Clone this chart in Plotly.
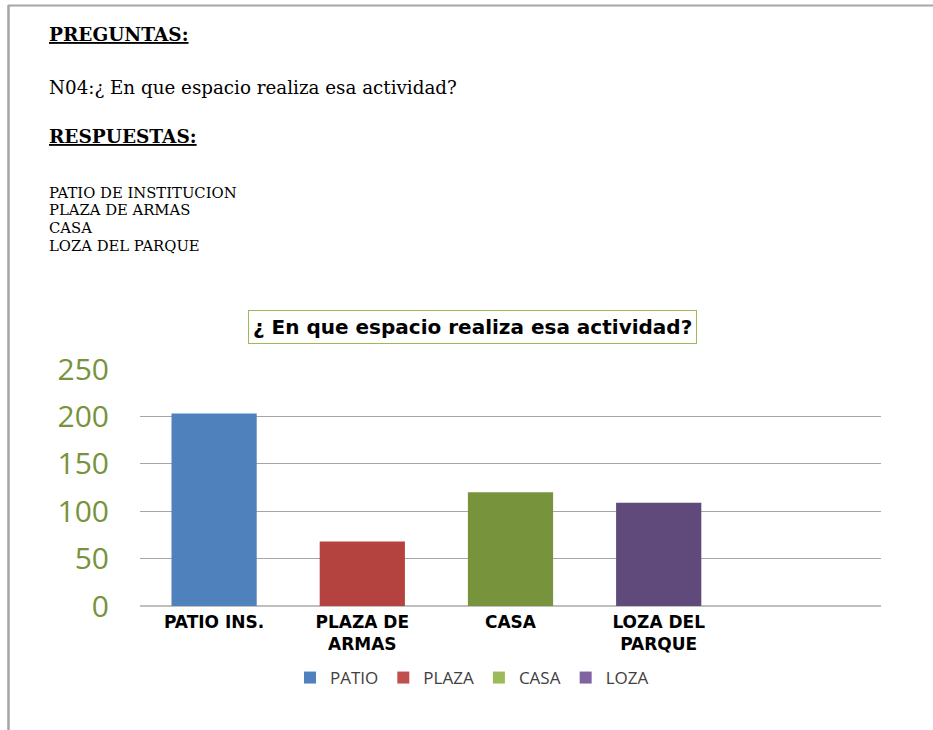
import plotly.graph_objects as go

# chart data
categories = ["PATIO INS.", "PLAZA DE<br>ARMAS", "CASA", "LOZA DEL<br>PARQUE", " "]
series_names = ["PATIO", "PLAZA", "CASA", "LOZA"]
values = [203, 68, 120, 109]
bar_colors = ["#4F81BD", "#B4423F", "#77933C", "#604A7B"]
legend_colors = ["#4F81BD", "#C0504D", "#9BBB59", "#8064A2"]
y_ticks = [0, 50, 100, 150, 200, 250]

# page text
pregunta = "N04:¿ En que espacio realiza esa actividad?"
respuestas = ["PATIO DE INSTITUCION", "PLAZA DE ARMAS", "CASA", "LOZA DEL PARQUE"]
chart_title = "¿ En que espacio realiza esa actividad?"

W, H = 933, 730


def px(x):
    return x / W


def py(y):
    return 1 - y / H


fig = go.Figure()

for name, cat, val, color in zip(series_names, categories, values, bar_colors):
    fig.add_trace(
        go.Bar(
            x=[cat],
            y=[val],
            name=name,
            marker_color=color,
            marker_line_width=0,
            width=0.575,
            showlegend=False,
        )
    )

# legend swatches use the lighter office palette
for name, color in zip(series_names, legend_colors):
    fig.add_trace(
        go.Bar(x=[None], y=[None], name=name, marker_color=color, marker_line_width=0)
    )

serif = "DejaVu Serif, serif"
annotations = [
    dict(text="<b><u>PREGUNTAS:</u></b>", x=px(47), y=py(35), font=dict(family=serif, size=18.5)),
    dict(text=pregunta, x=px(47), y=py(87), font=dict(family=serif, size=18.3)),
    dict(text="<b><u>RESPUESTAS:</u></b>", x=px(47), y=py(136), font=dict(family=serif, size=18.5)),
]
for i, r in enumerate(respuestas):
    annotations.append(
        dict(text=r, x=px(47), y=py(192 + i * 17.7), font=dict(family=serif, size=14.8))
    )
for a in annotations:
    a.update(xref="paper", yref="paper", xanchor="left", yanchor="middle",
             showarrow=False, align="left")
    a["font"]["color"] = "#000000"

annotations.append(
    dict(
        text="<b>" + chart_title + "</b>",
        x=px(472), y=py(327), xref="paper", yref="paper",
        xanchor="center", yanchor="middle", showarrow=False,
        font=dict(family="DejaVu Sans, sans-serif", size=20, color="#000000"),
        bordercolor="#9BBB59", borderwidth=1, borderpad=4, bgcolor="#FFFFFF",
    )
)

shapes = [
    dict(type="line", xref="paper", yref="paper", x0=px(8.5), x1=px(8.5), y0=py(5), y1=0,
         line=dict(color="#A6A6A6", width=2.5)),
    dict(type="line", xref="paper", yref="paper", x0=px(8), x1=1, y0=py(5.5), y1=py(5.5),
         line=dict(color="#A6A6A6", width=2)),
]

fig.update_layout(
    template="none",
    width=W,
    height=H,
    margin=dict(l=0, r=0, t=0, b=0, autoexpand=False),
    paper_bgcolor="#FFFFFF",
    plot_bgcolor="#FFFFFF",
    barmode="overlay",
    annotations=annotations,
    shapes=shapes,
    xaxis=dict(
        domain=[px(140), px(881)],
        type="category",
        categoryorder="array",
        categoryarray=categories,
        range=[-0.5, 4.5],
        tickfont=dict(family="DejaVu Sans, sans-serif", size=17, color="#000000", weight="bold"),
        showgrid=False,
        ticks="",
        showline=False,
        ticklabelstandoff=4,
        automargin=False,
    ),
    yaxis=dict(
        domain=[py(606), py(369)],
        range=[0, 250],
        tickvals=y_ticks,
        tickfont=dict(family="Open Sans, sans-serif", size=30, color="#77933C"),
        showgrid=True,
        gridcolor="#A6A6A6",
        gridwidth=1,
        zeroline=True,
        zerolinecolor="#BFBFBF",
        zerolinewidth=2,
        ticks="",
        ticklabelstandoff=30,
        automargin=False,
    ),
    legend=dict(
        orientation="h",
        x=px(472), y=py(678), xanchor="center", yanchor="middle",
        font=dict(family="Open Sans, sans-serif", size=17, color="#404040"),
        itemwidth=30,
    ),
)

# drop the default page margin so the figure sits at the window's top-left corner
fig.write_html(
    "out.html",
    config={"displayModeBar": False},
    post_script="document.body.style.margin = '0';",
)
